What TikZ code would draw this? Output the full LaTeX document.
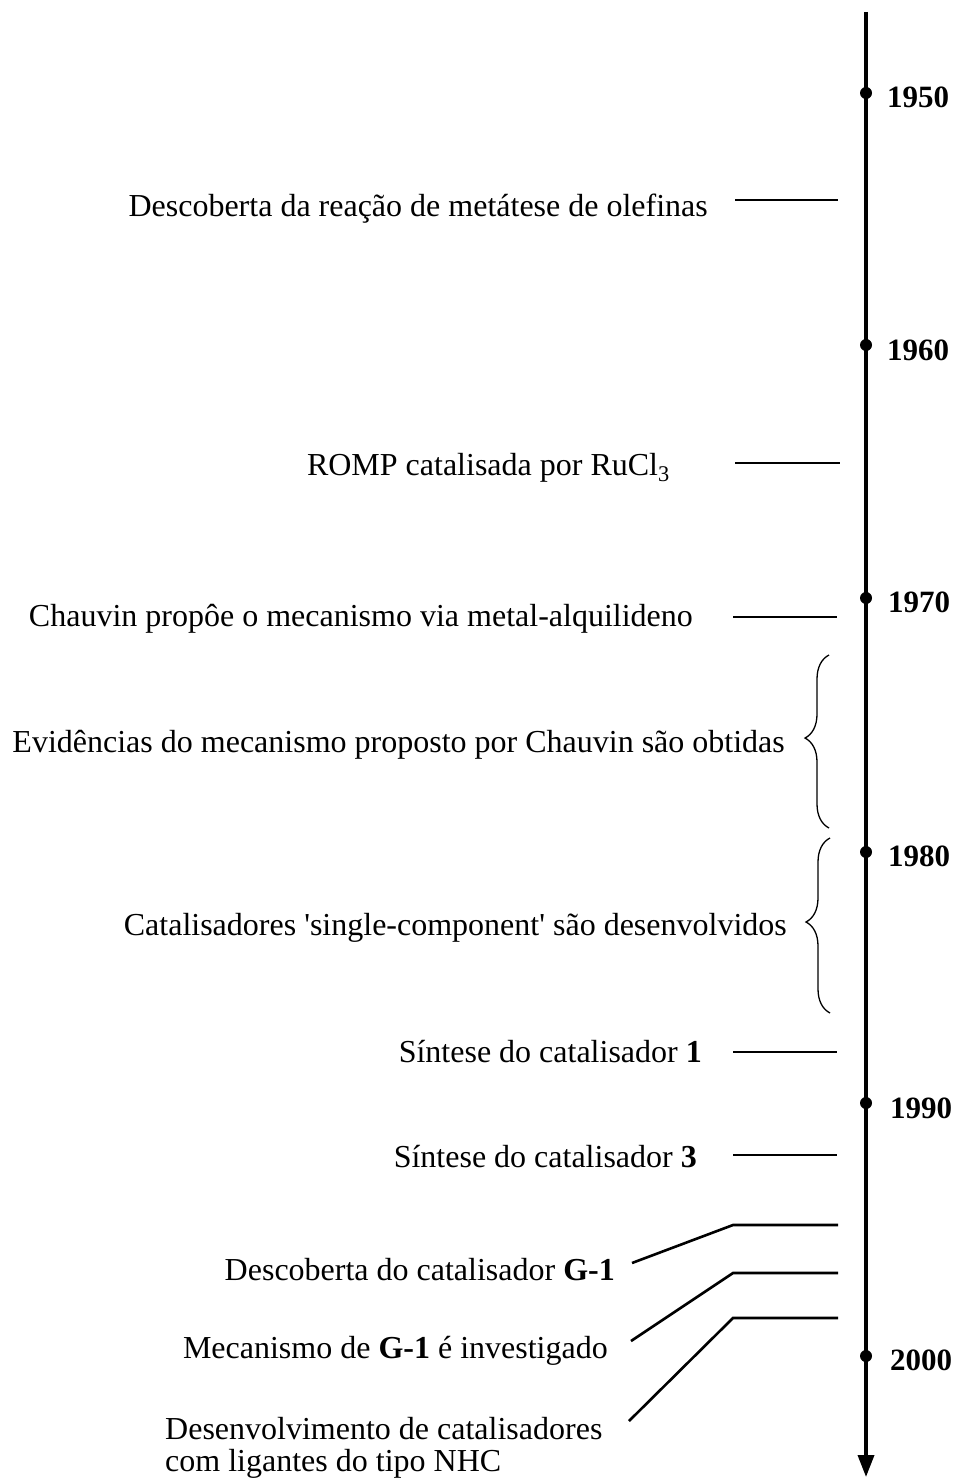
\documentclass[tikz,border=0pt]{standalone}
\usepackage{fontspec}
\setmainfont{Liberation Serif}
\newfontfamily\rawquote{Liberation Serif}[Ligatures=TeXOff]
\usetikzlibrary{arrows.meta,decorations.pathreplacing}
\begin{document}
\begin{tikzpicture}[x=1pt,y=-1pt,
  lbl/.style={font=\fontsize{32}{32}\selectfont, inner sep=0pt, anchor=base east},
  yr/.style={font=\fontsize{31}{32}\selectfont\bfseries, inner sep=0pt, anchor=base west},
  tick/.style={line width=2.6pt},
  axisline/.style={line width=3.6pt, -{Triangle[width=16pt,length=22pt]}},
  dotst/.style={circle, fill=black, inner sep=0pt, minimum size=12pt},
  bracest/.style={line width=1.3pt, decorate, decoration={brace, amplitude=24pt, aspect=0.52}}]
\useasboundingbox (0,0) rectangle (958,1479);
% axis
\coordinate (top) at (866,12);
\coordinate (bot) at (866,1477);
\draw[axisline] (top) -- (bot);
% year dots and labels
\foreach \yy/\ty/\nm/\lx in {93/108/1950/887, 345/360/1960/887, 598/612/1970/888, 852/866/1980/888, 1103/1118/1990/890, 1356/1370/2000/890}{
  \node[dotst] (d\nm) at (866,\yy) {};
  \node[yr] (y\nm) at (\lx,\ty) {\nm};
}
% events
\node[lbl] (e1) at (708,217) {Descoberta da reação de metátese de olefinas};
\coordinate (t1a) at (735,200); \coordinate (t1b) at (838,200);
\draw[tick] (t1a) -- (t1b);
\node[lbl] (e2) at (670,475) {ROMP catalisada por RuCl\textsubscript{3}};
\coordinate (t2a) at (735,463); \coordinate (t2b) at (840,463);
\draw[tick] (t2a) -- (t2b);
\node[lbl] (e3) at (693,626) {Chauvin propôe o mecanismo via metal-alquilideno};
\coordinate (t3a) at (733,617); \coordinate (t3b) at (837,617);
\draw[tick] (t3a) -- (t3b);
\node[lbl] (e4) at (785,752) {Evidências do mecanismo proposto por Chauvin são obtidas};
\coordinate (b1a) at (829,828); \coordinate (b1b) at (829,655);
\draw[bracest] (b1a) -- (b1b);
\node[lbl] (e5) at (787,935) {Catalisadores {\rawquote'}single-component{\rawquote'} são desenvolvidos};
\coordinate (b2a) at (830,1013); \coordinate (b2b) at (830,838);
\draw[bracest] (b2a) -- (b2b);
\node[lbl] (e6) at (702,1062) {Síntese do catalisador \textbf{1}};
\coordinate (t6a) at (733,1052); \coordinate (t6b) at (837,1052);
\draw[tick] (t6a) -- (t6b);
\node[lbl] (e7) at (697,1167) {Síntese do catalisador \textbf{3}};
\coordinate (t7a) at (733,1155); \coordinate (t7b) at (837,1155);
\draw[tick] (t7a) -- (t7b);
\node[lbl] (e8) at (615,1280) {Descoberta do catalisador \textbf{G-1}};
\coordinate (t8s) at (632,1263); \coordinate (t8a) at (733,1225); \coordinate (t8b) at (838,1225);
\draw[tick] (t8s) -- (t8a) -- (t8b);
\node[lbl] (e9) at (608,1358) {Mecanismo de \textbf{G-1} é investigado};
\coordinate (t9s) at (631,1341); \coordinate (t9a) at (733,1273); \coordinate (t9b) at (838,1273);
\draw[tick] (t9s) -- (t9a) -- (t9b);
\node[font=\fontsize{32}{32}\selectfont, inner sep=0pt, anchor=north west, align=left] (e10) at (165,1417) {Desenvolvimento de catalisadores\\com ligantes do tipo NHC};
\coordinate (t10s) at (629,1421); \coordinate (t10a) at (733,1318); \coordinate (t10b) at (838,1318);
\draw[tick] (t10s) -- (t10a) -- (t10b);
\end{tikzpicture}
\end{document}
